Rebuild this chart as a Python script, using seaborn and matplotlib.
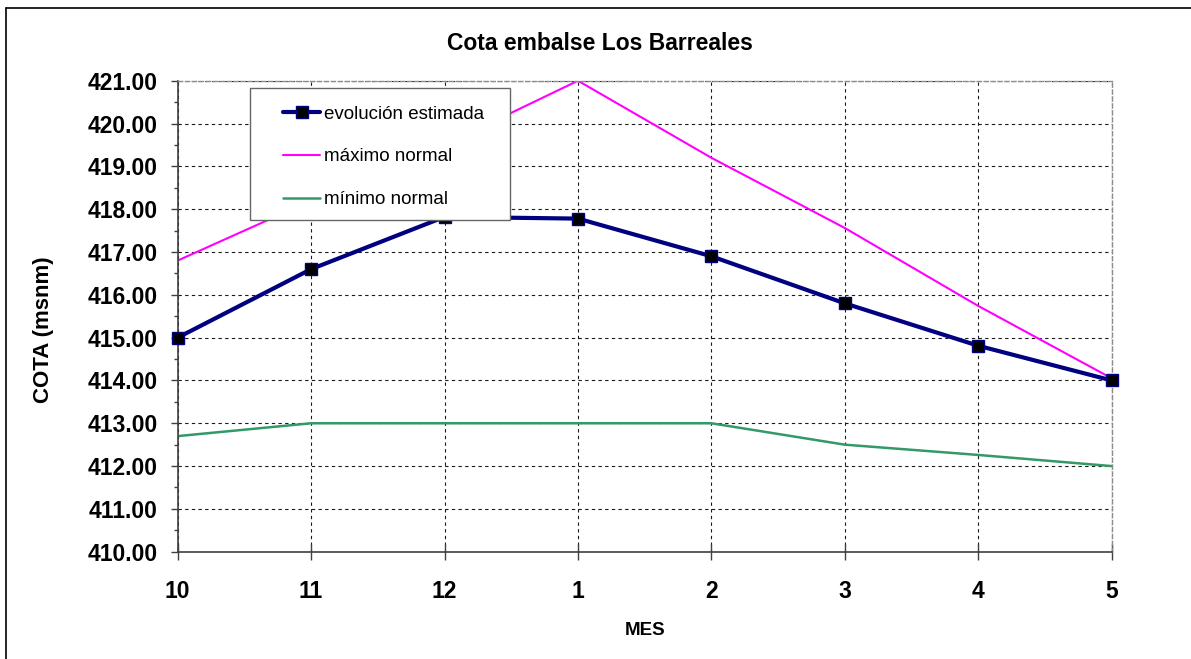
import numpy as np
import pandas as pd
import matplotlib
matplotlib.use('Agg')
import matplotlib.pyplot as plt
import seaborn as sns
from matplotlib.lines import Line2D
from matplotlib.patches import Rectangle
from matplotlib.ticker import MultipleLocator, FormatStrFormatter

# months of the hydrological year (oct -> may)
meses = ['10', '11', '12', '1', '2', '3', '4', '5']
evolucion = [415.0, 416.6, 417.82, 417.78, 416.9, 415.8, 414.81, 414.0]
maximo = [416.8, 418.2, 419.5, 421.0, 419.2, 417.56, 415.74, 414.05]
minimo = [412.7, 413.0, 413.0, 413.0, 413.0, 412.5, 412.26, 412.0]


def main():
    sns.set_theme(style='white')
    plt.rcParams['font.family'] = ['Liberation Sans', 'DejaVu Sans']
    plt.rcParams['text.color'] = 'black'
    plt.rcParams['axes.labelcolor'] = 'black'

    df = pd.DataFrame({'MES': meses, 'evolucion': evolucion,
                       'maximo': maximo, 'minimo': minimo})

    fig = plt.figure(figsize=(11.91, 6.59), dpi=100)
    ax = fig.add_axes([0.1492, 0.1628, 0.7842, 0.7147])

    # the three series
    sns.lineplot(data=df, x='MES', y='evolucion', ax=ax, sort=False, color='#000080',
                 lw=3, marker='s', markersize=8, markerfacecolor='black',
                 markeredgecolor='#000080', markeredgewidth=1, clip_on=False,
                 zorder=3, label='evolución estimada')
    sns.lineplot(data=df, x='MES', y='maximo', ax=ax, sort=False, color='#FF00FF',
                 lw=1.5, zorder=2, label='máximo normal')
    sns.lineplot(data=df, x='MES', y='minimo', ax=ax, sort=False, color='#339966',
                 lw=1.8, zorder=2, label='mínimo normal')

    ax.set_xlim(0, len(meses) - 1)
    ax.set_ylim(410, 421)
    ax.yaxis.set_major_locator(MultipleLocator(1))
    ax.yaxis.set_minor_locator(MultipleLocator(0.5))
    ax.yaxis.set_major_formatter(FormatStrFormatter('%.2f'))

    ax.tick_params(axis='y', which='major', left=True, direction='out', length=5,
                   width=1, color='#404040', pad=9.2, labelsize=16.5, labelcolor='black')
    ax.tick_params(axis='y', which='minor', left=True, direction='out', length=2.7,
                   width=1, color='#404040')
    ax.tick_params(axis='x', which='major', bottom=True, direction='inout', length=12,
                   width=1, color='#404040', pad=14.4, labelsize=16.5, labelcolor='black')
    for lab in ax.get_xticklabels() + ax.get_yticklabels():
        lab.set_fontweight('bold')

    # dashed grid
    ax.set_axisbelow(True)
    ax.grid(True, which='major', color='0.1', lw=0.8, linestyle=(0, (3, 3)))

    for side in ['left', 'bottom']:
        ax.spines[side].set_color('#404040')
        ax.spines[side].set_linewidth(1.2)
    for side in ['top', 'right']:
        ax.spines[side].set_color('0.55')
        ax.spines[side].set_linewidth(1.0)
        ax.spines[side].set_linestyle((0, (3, 2)))

    ax.set_xlabel('')
    ax.set_ylabel('')

    # legend box drawn separately so the padding matches
    ax.add_patch(Rectangle((0.0778, 0.7042), 0.2784, 0.2796, transform=ax.transAxes,
                           facecolor='white', edgecolor='0.4', lw=1.0, zorder=4))
    handles, labels = ax.get_legend_handles_labels()
    leg = ax.legend(handles, labels, loc='upper left', bbox_to_anchor=(0.1131, 0.9473),
                    frameon=False, fontsize=13.5, handlelength=1.96, handletextpad=0.23,
                    labelspacing=1.37, borderpad=0, borderaxespad=0, labelcolor='black')
    leg.set_zorder(5)

    fig.text(600 / 1191, 1 - 50 / 659, 'Cota embalse Los Barreales', ha='center',
             va='baseline', fontsize=16.5, fontweight='bold', color='black')
    fig.text(44 / 1191, 1 - 330 / 659, 'COTA (msnm)', rotation=90, ha='center',
             va='center', fontsize=16, fontweight='bold', color='black')
    fig.text(644.7 / 1191, 1 - 635 / 659, 'MES', ha='center', va='baseline',
             fontsize=13.5, fontweight='bold', color='black')

    # outer chart frame (only top and left edges are inside the picture)
    fig.add_artist(Line2D([6 / 1191, 6 / 1191], [0, 1 - 8 / 659], color='black',
                          lw=1.2, transform=fig.transFigure))
    fig.add_artist(Line2D([6 / 1191, 1], [1 - 8 / 659, 1 - 8 / 659], color='black',
                          lw=1.2, transform=fig.transFigure))

    fig.savefig('out.png', dpi=100)


if __name__ == '__main__':
    main()
